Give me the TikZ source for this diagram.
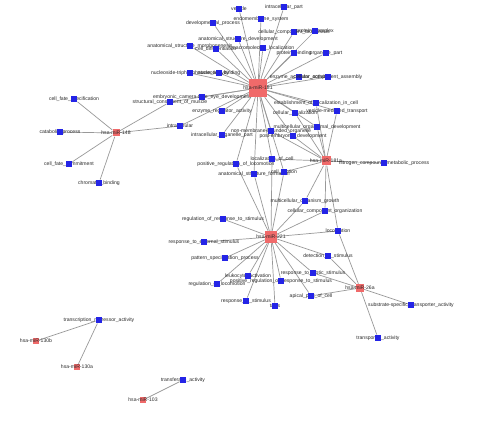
\documentclass[tikz,border=0pt]{standalone}
\usepackage{fontspec}
\setmainfont{Liberation Sans}
\usetikzlibrary{backgrounds}
\definecolor{gonode}{HTML}{2424E6}
\definecolor{mirnode}{HTML}{F06A6A}
\definecolor{edgegray}{HTML}{999999}
\definecolor{labgray}{HTML}{2A2A2A}
\tikzset{
  lab/.style={font=\fontsize{5.1}{6}\selectfont, text=labgray, inner sep=0pt},
  gosq/.style={fill=gonode, draw=none, minimum size=6.5pt, inner sep=0pt},
  mirsq/.style={fill=mirnode, draw=none, inner sep=0pt, minimum size=#1},
  mirsq/.default=6pt,
  link/.style={draw=edgegray, line width=0.7pt},
}
\newcommand\goterm[3]{\node[lab] (#1-t) at (#2) {#3};\node[gosq] (#1) at (#2) {};}
\newcommand\mirterm[4]{\node[mirsq=#3] (#1) at (#2) {};\node[lab] (#1-t) at (#2) {#4};}
\begin{document}
\begin{tikzpicture}[x=1pt,y=-1pt]
\useasboundingbox (0,0) rectangle (484,427);
% GO terms
\goterm{ves}{239,9}{vesicle}
\goterm{icp}{284,7}{intracellular\_part}
\goterm{endo}{261,19}{endomembrane\_system}
\goterm{devp}{213,23}{developmental\_process}
\goterm{ccb}{294,32}{cellular\_component\_biogenesis}
\goterm{pcx}{315,31}{protein\_complex}
\goterm{asd}{238,39}{anatomical\_structure\_development}
\goterm{asm}{190,46}{anatomical\_structure\_morphogenesis}
\goterm{cdiff}{216,49}{cell\_differentiation}
\goterm{mloc}{263,48}{macromolecule\_localization}
\goterm{pbind}{294,53}{protein\_binding}
\goterm{opart}{326,53}{organelle\_part}
\goterm{ntpase}{190,73}{nucleoside-triphosphatase\_activity}
\goterm{nbind}{219,73}{nucleotide\_binding}
\goterm{enzact}{299,77}{enzyme\_activator\_activity}
\goterm{cca}{328,77}{cellular\_component\_assembly}
\goterm{eye}{202,97}{embryonic\_camera-type\_eye\_development}
\goterm{muscle}{170,102}{structural\_constituent\_of\_muscle}
\goterm{enzreg}{222,111}{enzyme\_regulator\_activity}
\goterm{intra}{180,126}{intracellular}
\goterm{estab}{316,103}{establishment\_of\_localization\_in\_cell}
\goterm{vmt}{337,111}{vesicle-mediated\_transport}
\goterm{cloc}{295,113}{cellular\_localization}
\goterm{mod}{317,127}{multicellular\_organismal\_development}
\goterm{ped}{293,136}{post-embryonic\_development}
\goterm{nmbo}{271,131}{non-membrane-bounded\_organelle}
\goterm{iop}{222,135}{intracellular\_organelle\_part}
\goterm{loccell}{272,159}{localization\_of\_cell}
\goterm{prl}{236,164}{positive\_regulation\_of\_locomotion}
\goterm{asf}{254,174}{anatomical\_structure\_formation}
\goterm{cmot}{284,172}{cell\_motion}
\goterm{ncmp}{384,163}{nitrogen\_compound\_metabolic\_process}
\goterm{cfs}{74,99}{cell\_fate\_specification}
\goterm{catab}{60,132}{catabolic\_process}
\goterm{cfc}{69,164}{cell\_fate\_commitment}
\goterm{chrom}{99,183}{chromatin\_binding}
\goterm{mog}{305,201}{multicellular\_organism\_growth}
\goterm{cco}{325,211}{cellular\_component\_organization}
\goterm{rrs}{223,219}{regulation\_of\_response\_to\_stimulus}
\goterm{loco}{338,231}{locomotion}
\goterm{res}{204,242}{response\_to\_external\_stimulus}
\goterm{pat}{225,258}{pattern\_specification\_process}
\goterm{det}{328,256}{detection\_of\_stimulus}
\goterm{leuk}{248,276}{leukocyte\_activation}
\goterm{prrs}{281,281}{positive\_regulation\_of\_response\_to\_stimulus}
\goterm{rbs}{313,273}{response\_to\_biotic\_stimulus}
\goterm{rloc}{217,284}{regulation\_of\_locomotion}
\goterm{apic}{311,296}{apical\_part\_of\_cell}
\goterm{rstim}{246,301}{response\_to\_stimulus}
\goterm{taxis}{275,306}{taxis}
\goterm{sstr}{411,305}{substrate-specific\_transporter\_activity}
\goterm{transp}{378,338}{transporter\_activity}
\goterm{trep}{99,320}{transcription\_repressor\_activity}
\goterm{transf}{183,380}{transferase\_activity}
% miRNAs
\mirterm{h181}{258,88}{18pt}{hsa-miR-181}
\mirterm{h148}{116,133}{7pt}{hsa-miR-148}
\mirterm{h181a}{326,161}{9pt}{hsa-miR-181a}
\mirterm{h221}{271,237}{12pt}{hsa-miR-221}
\mirterm{h26a}{360,288}{8pt}{hsa-miR-26a}
\mirterm{h130b}{36,341}{6pt}{hsa-miR-130b}
\mirterm{h130a}{77,367}{6pt}{hsa-miR-130a}
\mirterm{h103}{143,400}{6pt}{hsa-miR-103}
\begin{pgfonlayer}{background}
\fill[white] (0,0) rectangle (484,427);
\foreach \b in {ves,icp,endo,devp,ccb,pcx,asd,asm,cdiff,mloc,pbind,opart,ntpase,nbind,enzact,cca,eye,muscle,enzreg,intra,estab,vmt,cloc,mod,ped,nmbo,iop,loccell,prl,asf,cmot}
  \draw[link] (h181) -- (\b);
\foreach \b in {cfs,catab,cfc,chrom,muscle,intra}
  \draw[link] (h148) -- (\b);
\foreach \b in {estab,vmt,cloc,mod,ped,loccell,cmot,ncmp,mog,cco,loco,nmbo}
  \draw[link] (h181a) -- (\b);
\foreach \b in {rrs,res,pat,leuk,rloc,rstim,taxis,prrs,rbs,det,apic,loco,cco,mog,loccell,prl,asf,cmot}
  \draw[link] (h221) -- (\b);
\foreach \b in {det,rbs,apic,sstr,transp,loco}
  \draw[link] (h26a) -- (\b);
\draw[link] (h130b) -- (trep);
\draw[link] (h130a) -- (trep);
\draw[link] (h103) -- (transf);
\end{pgfonlayer}
\end{tikzpicture}
\end{document}
